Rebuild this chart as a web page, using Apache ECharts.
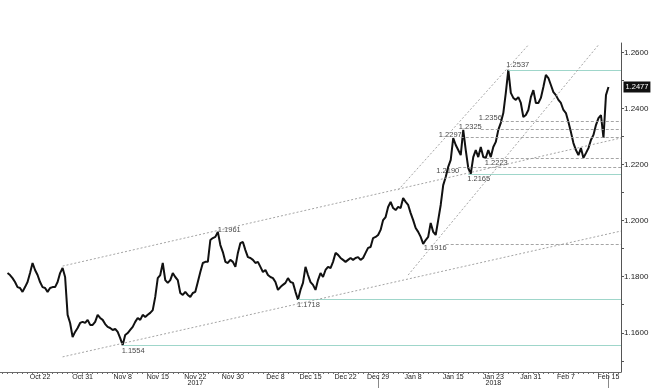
<!DOCTYPE html>
<html><head><meta charset="utf-8">
<script src="https://cdn.jsdelivr.net/npm/echarts@6/dist/echarts.min.js"></script>
<style>html,body{margin:0;padding:0;background:#fff;}#c{width:654px;height:391px;}</style>
</head><body><div id="c"></div>
<script>
// EUR/USD-style price path (hourly sampling)
const prices = [
1.1813,1.1806,1.1795,1.1781,1.1763,1.1760,1.1746,1.1763,1.1781,1.1813,
1.1849,1.1824,1.1806,1.1781,1.1763,1.1760,1.1746,1.1760,1.1763,1.1763,
1.1781,1.1813,1.1831,1.1799,1.1664,1.1635,1.1585,1.1603,1.1617,1.1635,
1.1639,1.1635,1.1646,1.1628,1.1628,1.1639,1.1664,1.1653,1.1646,1.1631,
1.1621,1.1617,1.1610,1.1614,1.1603,1.1581,1.1556,1.1592,1.1599,1.1610,
1.1621,1.1639,1.1653,1.1646,1.1664,1.1656,1.1664,1.1671,1.1681,1.1728,
1.1795,1.1806,1.1849,1.1788,1.1778,1.1788,1.1813,1.1799,1.1788,1.1742,
1.1735,1.1746,1.1735,1.1728,1.1742,1.1746,1.1781,1.1817,1.1849,1.1853,
1.1853,1.1931,1.1938,1.1942,1.1960,1.1913,1.1888,1.1853,1.1849,1.1860,
1.1853,1.1835,1.1885,1.1920,1.1924,1.1895,1.1870,1.1867,1.1860,1.1849,
1.1853,1.1835,1.1817,1.1824,1.1806,1.1799,1.1795,1.1781,1.1753,1.1763,
1.1771,1.1778,1.1795,1.1781,1.1778,1.1746,1.1718,1.1753,1.1778,1.1835,
1.1806,1.1781,1.1771,1.1753,1.1788,1.1813,1.1799,1.1824,1.1835,1.1831,
1.1853,1.1885,1.1878,1.1867,1.1860,1.1853,1.1860,1.1867,1.1860,1.1867,
1.1870,1.1860,1.1867,1.1885,1.1903,1.1906,1.1938,1.1942,1.1949,1.1967,
1.2002,1.2013,1.2049,1.2067,1.2045,1.2038,1.2049,1.2045,1.2081,1.2067,
1.2056,1.2027,1.2002,1.1974,1.1960,1.1942,1.1917,1.1931,1.1942,1.1992,
1.1960,1.1949,1.2002,1.2056,1.2127,1.2156,1.2192,1.2217,1.2295,1.2270,
1.2252,1.2234,1.2324,1.2252,1.2188,1.2167,1.2227,1.2252,1.2227,1.2263,
1.2227,1.2224,1.2252,1.2227,1.2263,1.2281,1.2324,1.2349,1.2384,1.2456,
1.2538,1.2456,1.2438,1.2431,1.2441,1.2420,1.2370,1.2377,1.2395,1.2441,
1.2466,1.2420,1.2420,1.2438,1.2477,1.2520,1.2509,1.2484,1.2459,1.2448,
1.2431,1.2420,1.2395,1.2384,1.2352,1.2316,1.2277,1.2252,1.2234,1.2259,
1.2224,1.2241,1.2259,1.2288,1.2306,1.2341,1.2366,1.2377,1.2295,1.2448,
1.2477
];

// date tick labels and the observation they sit on
const tickLabels = ['Oct 22','Oct 31','Nov 8','Nov 15','Nov 22','Nov 30','Dec 8','Dec 15','Dec 22','Dec 29','Jan 8','Jan 15','Jan 23','Jan 31','Feb 7','Feb 15'];
const tickIndex  = [13,30,46,60,75,90,107,121,135,148,162,178,194,209,223,240];
const yearLabels = ['2017','2018'];
const yearIndex  = [75,194];
const yearBreaks = [148,240];
const yTickValues = [1.16,1.18,1.20,1.22,1.24,1.26];

// support / resistance levels: value, observation where the level starts
const levelValues = [1.2537,1.2356,1.2325,1.2297,1.2223,1.2190,1.2165,1.1916,1.1718,1.1554];
const levelStart  = [200,197,189,181,191,180,184,175,116,46];
const levelKind   = ['solid','dash','dash','dash','dash','dash','solid','dash','solid','solid'];
// extra pivot label with no level line
const pivotValues = [1.1961];
const pivotIndex  = [84];

// trend / channel lines: [startIdx, startValue, endIdx, endValue]
const trendLines = [
  [22,1.1838,245,1.2295],
  [22,1.1514,245,1.1963],
  [156,1.2109,208,1.2627],
  [160,1.1806,236,1.2627]
];

// ---- styling (not data) ----
const labelSide = ['topRight','left','left','left','bottomRight','bottomLeft','bottomRight','bottomLeft','bottomRight','bottomRight'];
const pivotSide = ['topRightSmall'];
const sideStyle = {
  topRight:{position:'right',offset:[-3,-5]},
  topRightSmall:{position:'right',offset:[-1,-2]},
  left:{position:'left',offset:[2,-3]},
  bottomLeft:{position:'left',offset:[2,4]},
  bottomRight:{position:'right',offset:[-2,5]}
};
const FONT = 'Liberation Sans';
const xMin = -3, xMax = 245, levelEnd = 245;

const chart = echarts.init(document.getElementById('c'), null, {renderer:'canvas'});

const markLines = [];
levelValues.forEach((v,k)=>{
  const solid = levelKind[k]==='solid';
  markLines.push([
    {coord:[levelStart[k], v], lineStyle: solid ? {color:'#9fd6ca',width:1,type:'solid'} : {color:'#9a9a9a',width:0.9,type:[3,2]}},
    {coord:[levelEnd, v]}
  ]);
});
trendLines.forEach(t=>{
  markLines.push([
    {coord:[t[0],t[1]], lineStyle:{color:'#9a9a9a',width:0.9,type:[2,2]}},
    {coord:[t[2],t[3]]}
  ]);
});

const labelData = [];
levelValues.forEach((v,k)=>{
  const s = sideStyle[labelSide[k]];
  labelData.push({value:[levelStart[k], v], label:{position:s.position, offset:s.offset}});
});
pivotValues.forEach((v,k)=>{
  const s = sideStyle[pivotSide[k]];
  labelData.push({value:[pivotIndex[k], v], label:{position:s.position, offset:s.offset}});
});

const minorTicks = [];
for (let i = -2; i <= 244; i += 2) minorTicks.push(i);
const yMinor = [];
for (let v = 1.15; v <= 1.2601; v += 0.01) yMinor.push(+v.toFixed(2));

chart.setOption({
  animation:false,
  backgroundColor:'#fff',
  grid:{left:0,right:33,top:43,bottom:19,containLabel:false},
  xAxis:[{
    type:'value', min:xMin, max:xMax, position:'bottom',
    axisLine:{show:true,onZero:false,lineStyle:{color:'#6a6a6a',width:1}},
    axisTick:{show:true,customValues:minorTicks,length:2,lineStyle:{color:'#6a6a6a'}},
    axisLabel:{show:true,customValues:tickIndex,formatter:v=>{const k=tickIndex.indexOf(v);return k>=0?tickLabels[k]:'';},
      fontSize:7,fontFamily:FONT,color:'#222',margin:2},
    splitLine:{show:false}
  },{
    type:'value', min:xMin, max:xMax, position:'bottom', offset:4,
    axisLine:{show:false,onZero:false},
    axisTick:{show:true,customValues:yearBreaks,length:12,lineStyle:{color:'#8a8a8a'}},
    axisLabel:{show:true,customValues:yearIndex,formatter:v=>{const k=yearIndex.indexOf(v);return k>=0?yearLabels[k]:'';},
      fontSize:7,fontFamily:FONT,color:'#222',margin:4},
    splitLine:{show:false}
  }],
  yAxis:{
    type:'value', position:'right', min:1.146, max:1.2634, scale:true,
    axisLine:{show:true,onZero:false,lineStyle:{color:'#555',width:1}},
    axisTick:{show:true,customValues:yMinor,length:3,lineStyle:{color:'#555'}},
    axisLabel:{show:true,customValues:yTickValues,formatter:v=>v.toFixed(4),fontSize:8,fontFamily:FONT,color:'#222',margin:3},
    splitLine:{show:false}
  },
  series:[{
    type:'line',
    data:prices.map((p,i)=>[i,p]),
    symbol:'none',
    lineStyle:{color:'#111',width:2},
    clip:false,
    endLabel:{show:true,formatter:p=>p.value[1].toFixed(4),distance:15,backgroundColor:'#111',color:'#fff',
      fontSize:7.5,fontFamily:FONT,padding:[2,2,1,2]},
    markLine:{silent:true,symbol:['none','none'],label:{show:false},animation:false,data:markLines},
    z:3
  },{
    type:'scatter',
    data:labelData,
    symbolSize:0,
    silent:true,
    label:{show:true,formatter:p=>p.value[1].toFixed(4),fontSize:7.5,fontFamily:FONT,color:'#111',distance:1},
    z:4
  }]
});
</script>
</body></html>
